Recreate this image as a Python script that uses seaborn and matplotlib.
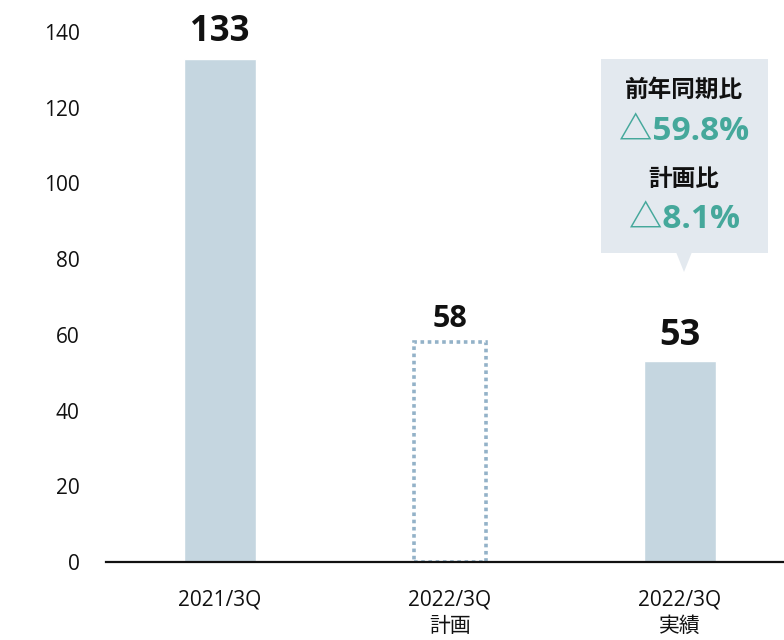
import matplotlib
matplotlib.use("Agg")
import matplotlib.pyplot as plt
import seaborn as sns
import pandas as pd
from matplotlib.patches import Polygon

categories = ["2021/3Q", "2022/3Q\n計画", "2022/3Q\n実績"]
values = [133, 58, 53]
value_labels = ["133", "58", "53"]
callout_title1 = "前年同期比"
callout_value1 = "△59.8%"
callout_title2 = "計画比"
callout_value2 = "△8.1%"
yticks = [0, 20, 40, 60, 80, 100, 120, 140]

sns.set_theme(style="white")
FAM = ["Open Sans", "Noto Sans CJK JP", "DejaVu Sans"]
plt.rcParams["font.family"] = FAM

df = pd.DataFrame({"cat": categories, "val": values})

fig = plt.figure(figsize=(7.84, 6.4), dpi=100)
ax = fig.add_axes([106/784, 1-562/640, 1-106/784, (562-32)/640])

bar_color = "#c5d6e0"
sns.barplot(data=df, x="cat", y="val", color=bar_color, width=0.313, ax=ax,
            saturation=1, errorbar=None)

p = ax.patches[1]
p.set_facecolor("none")
p.set_edgecolor("#93b2c8")
p.set_linestyle((0, (1, 1)))
p.set_linewidth(2.6)

ax.set_xlim(-0.496, 2.452)
ax.set_ylim(0, 140)
ax.set_yticks(yticks)
ax.set_xlabel("")
ax.set_ylabel("")
for s in ["top", "right", "left"]:
    ax.spines[s].set_visible(False)
ax.spines["bottom"].set_color("#111111")
ax.spines["bottom"].set_linewidth(1.6)
ax.tick_params(axis="y", length=0, pad=19, labelsize=15, labelcolor="#111111")
ax.tick_params(axis="x", length=0, pad=20, labelsize=15, labelcolor="#111111")
for t in ax.get_xticklabels() + ax.get_yticklabels():
    t.set_family(FAM)
for t in ax.get_xticklabels():
    t.set_linespacing(1.3)

sizes = [25, 22, 26]
offsets = [6, 6, 5]
for i, (v, lab) in enumerate(zip(values, value_labels)):
    ax.annotate(lab, (i, v), xytext=(0, offsets[i]), textcoords="offset points",
                ha="center", va="bottom", fontsize=sizes[i], fontweight="bold",
                color="#111111", family=FAM)

W, H = 784, 640
def fx(x): return x / W
def fy(y): return 1 - y / H
box_color = "#e3e9ef"
fig.patches.append(plt.Rectangle((fx(601), fy(253)), fx(768)-fx(601), fy(59)-fy(253),
                                 transform=fig.transFigure, facecolor=box_color,
                                 edgecolor="none", zorder=1))
fig.patches.append(Polygon([(fx(676), fy(252)), (fx(692), fy(252)), (fx(684), fy(272))],
                           closed=True, transform=fig.transFigure,
                           facecolor=box_color, edgecolor="none", zorder=1))
teal = "#45a89b"
CJK = ["Noto Sans CJK JP", "DejaVu Sans"]
fig.text(fx(684), fy(90), callout_title1, ha="center", va="center", fontsize=17,
         fontweight="bold", color="#111111", family=CJK)
fig.text(fx(684), fy(132), callout_value1, ha="center", va="center", fontsize=24,
         fontweight="bold", color=teal, family=FAM)
fig.text(fx(684), fy(179), callout_title2, ha="center", va="center", fontsize=17,
         fontweight="bold", color="#111111", family=CJK)
fig.text(fx(684), fy(220), callout_value2, ha="center", va="center", fontsize=24,
         fontweight="bold", color=teal, family=FAM)

fig.savefig("out.png", dpi=100)
